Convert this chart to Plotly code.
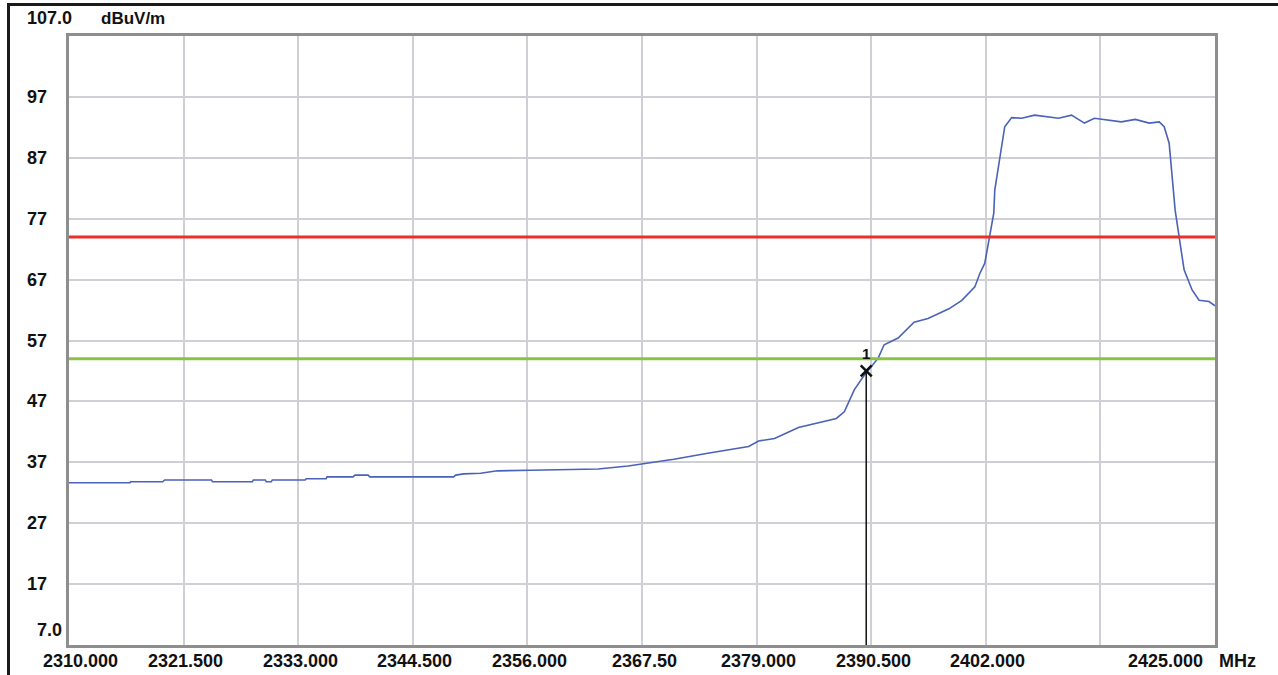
import plotly.graph_objects as go

# ---------------- data ----------------
freq_mhz = [2310.0, 2316.1, 2316.2, 2319.4, 2319.6, 2324.3, 2324.4, 2328.4, 2328.5, 2329.7,
            2329.8, 2330.3, 2330.4, 2333.7, 2333.8, 2335.8, 2335.9, 2338.5, 2338.7, 2340.0,
            2340.2, 2348.6, 2348.8, 2349.6, 2351.3, 2353.0, 2356.3, 2363.1, 2366.1, 2367.7,
            2370.7, 2374.1, 2375.7, 2378.2, 2379.2, 2380.8, 2383.2, 2385.8, 2387.0, 2387.8,
            2388.3, 2388.8, 2389.8, 2390.7, 2391.2, 2391.8, 2393.2, 2394.8, 2396.2, 2398.3,
            2399.6, 2400.9, 2401.4, 2401.9, 2402.4, 2402.8, 2402.9, 2403.3, 2403.6, 2403.9,
            2404.6, 2405.6, 2406.9, 2409.3, 2410.6, 2411.9, 2412.9, 2415.6, 2417.0, 2418.4,
            2419.4, 2419.9, 2420.4, 2420.7, 2421.0, 2421.4, 2421.9, 2422.7, 2423.4, 2424.4,
            2424.9, 2425.0]
level_dbuv = [33.65, 33.65, 33.8, 33.8, 34.1, 34.1, 33.8, 33.8, 34.1, 34.1,
              33.8, 33.8, 34.1, 34.1, 34.3, 34.3, 34.6, 34.6, 34.9, 34.9,
              34.6, 34.6, 34.9, 35.1, 35.2, 35.6, 35.7, 35.9, 36.4, 36.8,
              37.5, 38.5, 38.9, 39.6, 40.5, 40.9, 42.7, 43.8, 44.2, 45.3,
              47.2, 48.9, 51.3, 53.0, 54.1, 56.3, 57.4, 60.0, 60.6, 62.2,
              63.6, 65.8, 68.0, 69.7, 74.0, 77.9, 81.7, 86.1, 89.4, 92.1,
              93.6, 93.5, 94.0, 93.5, 94.0, 92.7, 93.5, 92.9, 93.3, 92.7,
              92.9, 92.1, 89.4, 83.9, 78.4, 74.0, 68.6, 65.3, 63.6, 63.4,
              62.8, 62.7]

limit_red = 74.0
limit_green = 54.0
marker_freq = 2390.0
marker_level = 52.0
marker_label = "1"

x_min, x_max = 2310.0, 2425.0
y_min, y_max = 7.0, 107.0
x_ticks = [2310.0, 2321.5, 2333.0, 2344.5, 2356.0, 2367.5, 2379.0, 2390.5, 2402.0, 2413.5, 2425.0]
x_tick_labels = ["2310.000", "2321.500", "2333.000", "2344.500", "2356.000", "2367.50",
                 "2379.000", "2390.500", "2402.000", "", "2425.000"]
y_ticks = [97, 87, 77, 67, 57, 47, 37, 27, 17]
y_tick_labels = ["97", "87", "77", "67", "57", "47", "37", "27", "17"]
y_unit = "dBuV/m"
x_unit = "MHz"

# ---------------- layout geometry ----------------
W, H = 1278, 675
PLOT_L, PLOT_R, PLOT_T, PLOT_B = 69, 1215, 36, 645   # plot box in window pixels
ML, MT = PLOT_L, PLOT_T
PW = PLOT_R - PLOT_L
PH = PLOT_B - PLOT_T
MR = W - ML - PW
MB = H - MT - PH


def px_x(px):
    return (px - PLOT_L) / PW


def px_y(py):
    return (PLOT_B - py) / PH


FONT = "Liberation Sans, Arial, sans-serif"
TXT = dict(family=FONT, size=18, color="#111111")

fig = go.Figure()

fig.add_trace(go.Scatter(x=freq_mhz, y=level_dbuv, mode="lines",
                         line=dict(color="#4a62b8", width=1.6), hoverinfo="skip"))
fig.add_trace(go.Scatter(x=[x_min, x_max], y=[limit_red, limit_red], mode="lines",
                         line=dict(color="#e8312b", width=3), hoverinfo="skip"))
fig.add_trace(go.Scatter(x=[x_min, x_max], y=[limit_green, limit_green], mode="lines",
                         line=dict(color="#88c442", width=3), hoverinfo="skip"))
# marker vertical line
fig.add_trace(go.Scatter(x=[marker_freq, marker_freq], y=[y_min, marker_level], mode="lines",
                         line=dict(color="#111111", width=1.5), hoverinfo="skip"))
fig.add_trace(go.Scatter(x=[marker_freq], y=[marker_level], mode="markers+text",
                         marker=dict(symbol="x-thin", size=11, line=dict(color="#111111", width=2.5)),
                         text=["<b>" + marker_label + "</b>"], textposition="top center",
                         textfont=dict(family=FONT, size=15, color="#111111"),
                         hoverinfo="skip"))

annotations = []
# x tick labels
for i, (v, lab) in enumerate(zip(x_ticks, x_tick_labels)):
    if not lab:
        continue
    shift = 2
    if i == 0:
        shift = 11
    elif i == len(x_ticks) - 1:
        shift = -50
    annotations.append(dict(x=v, y=0, xref="x", yref="paper", text="<b>" + lab + "</b>",
                            showarrow=False, xanchor="center", yanchor="middle",
                            xshift=shift, yshift=-16, font=TXT))
annotations.append(dict(x=x_max, y=0, xref="x", yref="paper", text="<b>" + x_unit + "</b>",
                        showarrow=False, xanchor="left", yanchor="middle",
                        xshift=2, yshift=-16, font=TXT))
# y tick labels
for v, lab in zip(y_ticks, y_tick_labels):
    annotations.append(dict(x=px_x(25), y=v, xref="paper", yref="y", text="<b>" + lab + "</b>",
                            showarrow=False, xanchor="left", yanchor="middle", font=TXT))
annotations.append(dict(x=px_x(64), y=y_min, xref="paper", yref="y", text="<b>7.0</b>",
                        showarrow=False, xanchor="right", yanchor="middle", yshift=15, font=TXT))
annotations.append(dict(x=px_x(25), y=y_max, xref="paper", yref="y", text="<b>107.0</b>",
                        showarrow=False, xanchor="left", yanchor="middle", yshift=18, font=TXT))
annotations.append(dict(x=px_x(99), y=y_max, xref="paper", yref="y", text="<b>" + y_unit + "</b>",
                        showarrow=False, xanchor="left", yanchor="middle", yshift=18,
                        font=dict(family=FONT, size=17, color="#111111")))

shapes = [
    dict(type="line", xref="paper", yref="paper", x0=px_x(8), x1=px_x(W), y0=px_y(4.5), y1=px_y(4.5),
         line=dict(color="#1a1a1a", width=3)),
    dict(type="line", xref="paper", yref="paper", x0=px_x(8.5), x1=px_x(8.5), y0=px_y(3), y1=px_y(H),
         line=dict(color="#1a1a1a", width=3)),
]

fig.update_layout(
    width=W, height=H,
    margin=dict(l=ML, r=MR, t=MT, b=MB, pad=0),
    paper_bgcolor="white", plot_bgcolor="white",
    showlegend=False,
    annotations=annotations,
    shapes=shapes,
    xaxis=dict(range=[x_min, x_max], tick0=x_min, dtick=11.5, showgrid=True,
               gridcolor="#cfcfd6", gridwidth=2, showticklabels=False, ticks="",
               zeroline=False, showline=True, mirror=True, linecolor="#8e8e8e", linewidth=3),
    yaxis=dict(range=[y_min, y_max], tick0=y_min, dtick=10, showgrid=True,
               gridcolor="#cfcfd6", gridwidth=2, showticklabels=False, ticks="",
               zeroline=False, showline=True, mirror=True, linecolor="#8e8e8e", linewidth=3),
)

fig.write_html("out.html", config={"displayModeBar": False},
               post_script="document.body.style.margin='0';document.body.style.overflow='hidden';")
